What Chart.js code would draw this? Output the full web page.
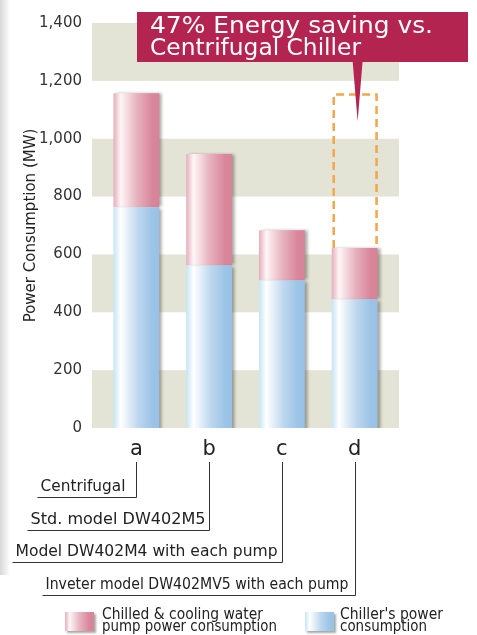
<!DOCTYPE html>
<html>
<head>
<meta charset="utf-8">
<script src="https://cdn.jsdelivr.net/npm/chart.js@4.4.0/dist/chart.umd.min.js"></script>
<style>
  html, body { margin: 0; padding: 0; background: #fff; }
  #wrap { position: relative; width: 477px; height: 635px; }
  #edge { position: absolute; left: 0; top: 0; width: 10px; height: 575px;
          background: linear-gradient(to right, #d8d8d8, #f3f3f3 70%, #fff); }
  canvas { position: absolute; left: 0; top: 0; }
</style>
</head>
<body>
<div id="wrap">
  <div id="edge"></div>
  <canvas id="chart" width="477" height="635"></canvas>
</div>
<script>
const categories = ['a', 'b', 'c', 'd'];
const modelNames = [
  'Centrifugal',
  'Std. model DW402M5',
  'Model DW402M4 with each pump',
  'Inveter model DW402MV5 with each pump'
];
const chillerPower = [763, 563, 511, 445];
const pumpPower = [394, 384, 173, 177];
const yTicks = [0, 200, 400, 600, 800, 1000, 1200, 1400];
const seriesLabels = [
  ["Chiller's power", 'consumption'],
  ['Chilled & cooling water', 'pump power consumption']
];
const calloutText = ['47% Energy saving vs.', 'Centrifugal Chiller'];
const yTitle = 'Power Consumption (MW)';

const FONT = "'DejaVu Sans', Verdana, sans-serif";

// set widths of the model-name labels and their gap to the leader line
const nameWidths = [85, 175, 262, 303];
const nameGaps = [11, 4, 5, 7];

// colour ramps for the glossy bars
const blueStops = [[0, '#c6e4f4'], [0.16, '#ffffff'], [0.55, '#bcd6ee'], [0.85, '#9cc4e7'], [1, '#98c1e6']];
const pinkStops = [[0, '#e3aebb'], [0.16, '#fff6f7'], [0.5, '#e7b4c0'], [0.85, '#d9859a'], [1, '#d78398']];

function ramp(ctx, x0, x1, stops) {
  const g = ctx.createLinearGradient(x0, 0, x1, 0);
  stops.forEach(s => g.addColorStop(s[0], s[1]));
  return g;
}

function barFill(stops) {
  return function(c) {
    const chart = c.chart;
    const xs = chart.scales.x;
    const fallback = stops[stops.length - 1][1];
    if (!xs || c.dataIndex === undefined) return fallback;
    const px = xs.getPixelForValue(c.dataIndex);
    const w = (xs.width / categories.length) * 0.63;
    if (!isFinite(px) || !isFinite(w) || w <= 0) return fallback;
    return ramp(chart.ctx, px - w / 2, px + w / 2, stops);
  };
}

// draw text squeezed/stretched to a given width (left aligned)
function fitText(ctx, text, x, y, width) {
  const w = ctx.measureText(text).width;
  ctx.save();
  ctx.textAlign = 'left';
  ctx.translate(x, y);
  ctx.scale(width / w, 1);
  ctx.fillText(text, 0, 0);
  ctx.restore();
}

const bandsPlugin = {
  id: 'bands',
  beforeDatasetsDraw(chart) {
    const { ctx, scales: { x, y } } = chart;
    ctx.save();
    ctx.fillStyle = '#e3e4d6';
    for (let i = 0; i < yTicks.length - 1; i += 2) {
      const top = y.getPixelForValue(yTicks[i + 1]);
      const bot = y.getPixelForValue(yTicks[i]);
      ctx.fillRect(x.left - 8, top, x.right - x.left + 16, bot - top);
    }
    ctx.restore();
  }
};

const shadowPlugin = {
  id: 'barShadow',
  beforeDatasetDraw(chart, args) {
    const ctx = chart.ctx;
    ctx.save();
    ctx.shadowColor = 'rgba(60,60,50,0.45)';
    ctx.shadowBlur = 3;
    ctx.shadowOffsetX = 3;
    ctx.shadowOffsetY = args.index === 0 ? 2 : 0;
  },
  afterDatasetDraw(chart) {
    chart.ctx.restore();
  }
};

const extrasPlugin = {
  id: 'extras',
  afterDraw(chart) {
    const { ctx, scales: { x, y } } = chart;
    const last = categories.length - 1;
    const dx = x.getPixelForValue(last);
    const bw = (x.width / categories.length) * 0.63;
    const baseTotal = chillerPower[0] + pumpPower[0];
    const lastTotal = chillerPower[last] + pumpPower[last];

    // dashed outline showing the saving on bar d
    ctx.save();
    ctx.strokeStyle = '#f5a54a';
    ctx.lineWidth = 2.5;
    ctx.setLineDash([8, 5]);
    ctx.beginPath();
    const l = dx - bw / 2 + 2, r = dx + bw / 2 - 1;
    const t = y.getPixelForValue(baseTotal - 4), b = y.getPixelForValue(lastTotal);
    ctx.moveTo(l, b);
    ctx.lineTo(l, t);
    ctx.lineTo(r, t);
    ctx.lineTo(r, b);
    ctx.stroke();
    ctx.restore();

    // callout
    ctx.save();
    ctx.fillStyle = '#b42450';
    ctx.fillRect(137, 12, 331, 50);
    ctx.beginPath();
    ctx.moveTo(dx - 2, 61);
    ctx.lineTo(dx + 8, 61);
    ctx.lineTo(dx + 3, y.getPixelForValue(1060));
    ctx.closePath();
    ctx.fill();
    ctx.fillStyle = '#fff';
    ctx.font = '23px ' + FONT;
    ctx.textBaseline = 'alphabetic';
    fitText(ctx, calloutText[0], 150, 33, 283);
    fitText(ctx, calloutText[1], 150, 55, 211);
    ctx.restore();

    // leader lines to model names
    ctx.save();
    ctx.strokeStyle = '#333';
    ctx.lineWidth = 1;
    ctx.fillStyle = '#222';
    ctx.font = '15px ' + FONT;
    modelNames.forEach((name, i) => {
      const px = Math.round(x.getPixelForValue(i)) + 0.5;
      const ly = Math.round(496.7 + i * 32.8) + 0.5;
      const tr = px - nameGaps[i];
      const tl = tr - nameWidths[i];
      ctx.beginPath();
      ctx.moveTo(px, 462);
      ctx.lineTo(px, ly);
      ctx.lineTo(tl - 3, ly);
      ctx.stroke();
      fitText(ctx, name, tl, ly - 7, nameWidths[i]);
    });
    ctx.restore();

    // legend
    ctx.save();
    const items = [
      { sw: 65, tx: 102, stops: pinkStops, lines: seriesLabels[1], widths: [161, 175] },
      { sw: 305, tx: 340, stops: blueStops, lines: seriesLabels[0], widths: [103, 87] }
    ];
    items.forEach(it => {
      ctx.save();
      ctx.shadowColor = 'rgba(60,60,50,0.45)';
      ctx.shadowBlur = 2;
      ctx.shadowOffsetX = 2;
      ctx.shadowOffsetY = 2;
      ctx.fillStyle = ramp(ctx, it.sw, it.sw + 29, it.stops);
      ctx.fillRect(it.sw, 612, 29, 19);
      ctx.restore();
      ctx.fillStyle = '#222';
      ctx.font = '15px ' + FONT;
      fitText(ctx, it.lines[0], it.tx, 619, it.widths[0]);
      fitText(ctx, it.lines[1], it.tx, 631, it.widths[1]);
    });
    ctx.restore();
  }
};

new Chart(document.getElementById('chart'), {
  type: 'bar',
  data: {
    labels: categories,
    datasets: [
      {
        label: seriesLabels[0].join(' '),
        data: chillerPower,
        backgroundColor: barFill(blueStops),
        borderWidth: 0,
        barPercentage: 0.63,
        categoryPercentage: 1
      },
      {
        label: seriesLabels[1].join(' '),
        data: pumpPower,
        backgroundColor: barFill(pinkStops),
        borderWidth: 0,
        barPercentage: 0.63,
        categoryPercentage: 1
      }
    ]
  },
  options: {
    responsive: false,
    animation: false,
    layout: { padding: { left: 0, right: 86, top: 23, bottom: 177 } },
    plugins: {
      legend: { display: false },
      tooltip: { enabled: false }
    },
    scales: {
      x: {
        stacked: true,
        grid: { display: false },
        border: { display: false },
        ticks: { color: '#222', font: { family: FONT, size: 21 }, padding: 1 },
        afterFit(s) { s.height = 30; s.paddingLeft = 0; s.paddingRight = 0; }
      },
      y: {
        stacked: true,
        min: 0,
        max: 1400,
        grid: { display: false },
        border: { display: false },
        afterBuildTicks(s) { s.ticks = yTicks.map(v => ({ value: v })); },
        ticks: {
          color: '#333',
          font: { family: FONT, size: 15 },
          padding: 10,
          callback: v => v.toLocaleString('en-US')
        },
        title: {
          display: true,
          text: yTitle,
          color: '#222',
          font: { family: FONT, size: 15 },
          padding: { top: 22, bottom: 0 }
        },
        afterFit(s) { s.width = 100; s.paddingTop = 0; s.paddingBottom = 0; }
      }
    }
  },
  plugins: [bandsPlugin, shadowPlugin, extrasPlugin]
});
</script>
</body>
</html>
